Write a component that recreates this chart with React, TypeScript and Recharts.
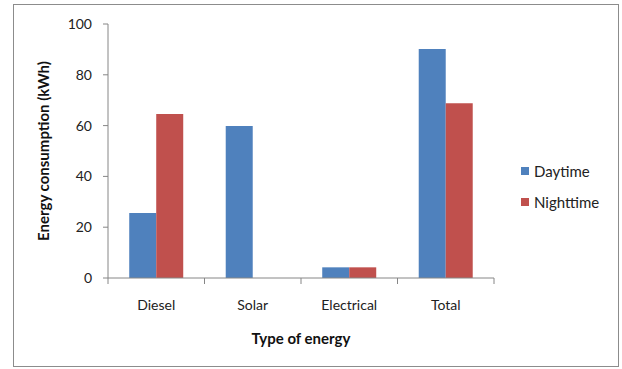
import React from "react";
import { BarChart, Bar, XAxis, YAxis, Label } from "recharts";

const categories = ["Diesel", "Solar", "Electrical", "Total"];
const daytime = [25.6, 59.8, 4.2, 90.2];
const nighttime = [64.6, 0, 4.2, 68.8];
const yTicks = [0, 20, 40, 60, 80, 100];

const seriesNames = ["Daytime", "Nighttime"];
const seriesColors = ["#4F81BD", "#C0504D"];

const data = categories.map((c, i) => ({
  name: c,
  Daytime: daytime[i],
  Nighttime: nighttime[i],
}));

const W = 622;
const H = 369;
const xAxisHeight = 30;
const margin = { top: 24, right: 128, bottom: 61, left: 0 };
const yAxisWidth = 108;
const plotWidth = W - margin.left - margin.right - yAxisWidth;
const band = plotWidth / categories.length;
const FONT = "Lato, 'Open Sans', sans-serif";
const AXIS = "#868686";
const TICK_GAP = 22;

// Category labels with tick marks drawn on the band boundaries
const CategoryTick = (props: any) => {
  const { x, y, payload, index } = props;
  const left = x - band / 2;
  const right = x + band / 2;
  const axisY = y - TICK_GAP;
  return (
    <g>
      <line x1={left} y1={axisY} x2={left} y2={axisY + 6} stroke={AXIS} />
      {index === categories.length - 1 && (
        <line x1={right} y1={axisY} x2={right} y2={axisY + 6} stroke={AXIS} />
      )}
      <text
        x={x}
        y={y}
        dy="0.71em"
        textAnchor="middle"
        fill="#222"
        fontSize={14}
        fontFamily={FONT}
      >
        {payload.value}
      </text>
    </g>
  );
};

const LegendBox = () => (
  <div
    style={{
      position: "absolute",
      left: 521,
      top: 161,
      fontFamily: FONT,
      fontSize: 15,
      color: "#222",
    }}
  >
    {seriesNames.map((n, i) => (
      <div
        key={n}
        style={{ display: "flex", alignItems: "center", height: 20, marginBottom: 11 }}
      >
        <span
          style={{
            width: 8,
            height: 8,
            background: seriesColors[i],
            display: "inline-block",
            marginRight: 5,
          }}
        />
        <span>{n}</span>
      </div>
    ))}
  </div>
);

export default function App() {
  return (
    <div style={{ position: "fixed", left: 0, top: 0, width: W, height: H, background: "#fff" }}>
      <div
        style={{
          position: "absolute",
          left: 13,
          top: 4,
          width: 606,
          height: 363,
          border: "1.5px solid #8c8c8c",
          boxSizing: "border-box",
        }}
      />
      <BarChart
        width={W}
        height={H}
        data={data}
        margin={margin}
        barCategoryGap="22%"
        barGap={0}
        style={{ position: "absolute", left: 0, top: 0 }}
      >
        <XAxis
          dataKey="name"
          height={xAxisHeight}
          stroke={AXIS}
          tickLine={false}
          tickSize={0}
          tickMargin={TICK_GAP}
          tick={<CategoryTick />}
          interval={0}
        >
          <Label
            value="Type of energy"
            position="bottom"
            offset={25}
            style={{ fontFamily: FONT, fontSize: 15, fontWeight: 700, fill: "#111" }}
          />
        </XAxis>
        <YAxis
          width={yAxisWidth}
          domain={[0, 100]}
          ticks={yTicks}
          stroke={AXIS}
          tickSize={5}
          tickMargin={11}
          tick={{ fill: "#222", fontSize: 14, fontFamily: FONT }}
        >
          <Label
            value="Energy consumption (kWh)"
            angle={-90}
            position="insideLeft"
            offset={44}
            style={{
              textAnchor: "middle",
              fontFamily: FONT,
              fontSize: 15,
              fontWeight: 700,
              fill: "#111",
            }}
          />
        </YAxis>
        <Bar dataKey="Daytime" fill={seriesColors[0]} isAnimationActive={false} />
        <Bar dataKey="Nighttime" fill={seriesColors[1]} isAnimationActive={false} />
      </BarChart>
      <LegendBox />
    </div>
  );
}
